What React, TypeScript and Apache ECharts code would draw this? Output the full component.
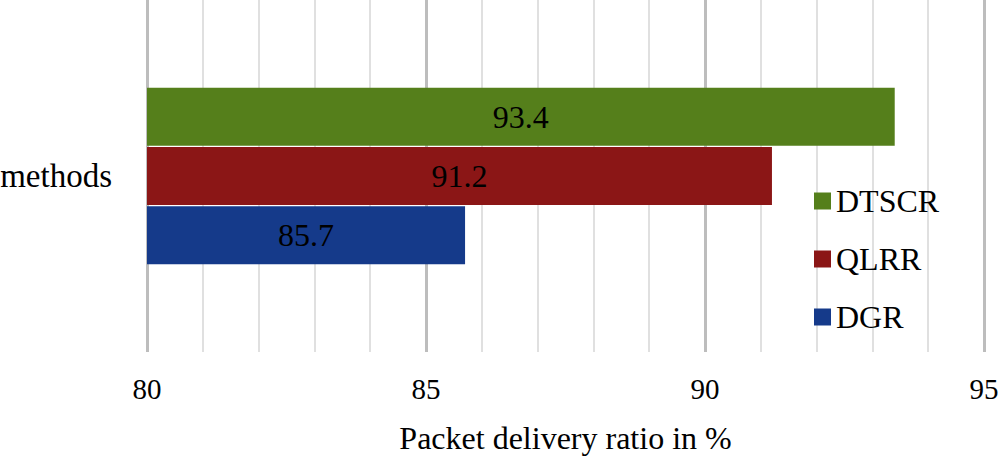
import React, { useEffect, useRef } from "react";
import * as echarts from "echarts";

const categories = ["methods"];
const seriesNames = ["DTSCR", "QLRR", "DGR"];
const dtscr = [93.4];
const qlrr = [91.2];
const dgr = [85.7];
const colors: Record<string, string> = { DTSCR: "#557F1B", QLRR: "#8B1616", DGR: "#153A8A" };

const FONT = "Liberation Serif";
const FS = 32;

export default function App() {
  const ref = useRef<HTMLDivElement>(null);
  useEffect(() => {
    const chart = echarts.init(ref.current!, null, { renderer: "svg" });
    const mk = (name: string, data: number[]) => ({
      name,
      type: "bar",
      data,
      barWidth: 58,
      barGap: "2%",
      itemStyle: { color: colors[name] },
      label: {
        show: true,
        position: "inside",
        color: "#000",
        fontFamily: FONT,
        fontSize: FS,
        formatter: (p: any) => p.value.toFixed(1),
      },
    });
    chart.setOption({
      animation: false,
      textStyle: { fontFamily: FONT },
      grid: { left: 147, right: 16, top: 0, bottom: 105, containLabel: false, outerBoundsMode: "none" },
      legend: {
        orient: "vertical",
        left: 809,
        top: 180,
        data: seriesNames,
        itemWidth: 17,
        itemHeight: 17,
        itemGap: 26,
        icon: "rect",
        textStyle: { fontFamily: FONT, fontSize: FS, color: "#000" },
      },
      xAxis: {
        type: "value",
        min: 80,
        max: 95,
        interval: 5,
        name: "Packet delivery ratio in %",
        nameLocation: "middle",
        nameGap: 70,
        nameTextStyle: { fontFamily: FONT, fontSize: FS, color: "#000" },
        axisLine: { show: false },
        axisTick: { show: false },
        axisLabel: { fontFamily: FONT, fontSize: 29, color: "#000", margin: 22 },
        splitLine: { show: true, lineStyle: { color: "#BDBDBD", width: 3 } },
        minorTick: { show: false, splitNumber: 5 },
        minorSplitLine: { show: true, lineStyle: { color: "#E0E0E0", width: 2 } },
      },
      yAxis: {
        type: "category",
        data: categories,
        axisLine: { show: false },
        axisTick: { show: false },
        axisLabel: { fontFamily: FONT, fontSize: 33, color: "#000", margin: 35 },
      },
      series: [mk("DTSCR", dtscr), mk("QLRR", qlrr), mk("DGR", dgr)],
    });
    return () => chart.dispose();
  }, []);
  return <div ref={ref} style={{ width: 1000, height: 457, position: "absolute", left: 0, top: 0, background: "#fff" }} />;
}
